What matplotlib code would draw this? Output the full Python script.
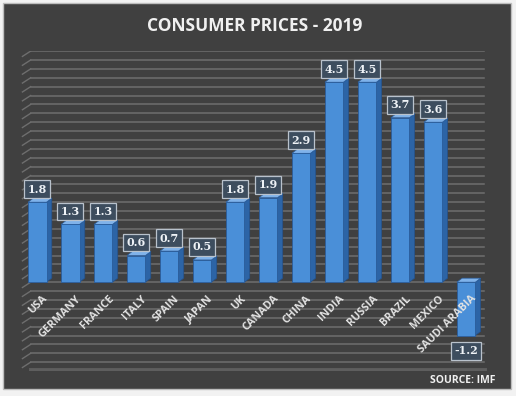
import numpy as np
import matplotlib.pyplot as plt
from matplotlib.patches import Polygon, Rectangle

# data
countries = ["USA", "GERMANY", "FRANCE", "ITALY", "SPAIN", "JAPAN", "UK",
             "CANADA", "CHINA", "INDIA", "RUSSIA", "BRAZIL", "MEXICO", "SAUDI ARABIA"]
inflation = [1.8, 1.3, 1.3, 0.6, 0.7, 0.5, 1.8, 1.9, 2.9, 4.5, 4.5, 3.7, 3.6, -1.2]

BG = "#404040"
GRID = "#6e6e6e"
FRONT = "#4a8fd8"
SIDE = "#2c64a6"
TOP = "#7fb2ea"

fig = plt.figure(figsize=(5.16, 3.96), dpi=100)
fig.patch.set_facecolor("#f2f2f2")
panel = Rectangle((0.006, 0.018), 0.984, 0.975, transform=fig.transFigure,
                  facecolor=BG, edgecolor="#bdbdbd", lw=1.0, zorder=-10)
fig.add_artist(panel)

ax = fig.add_axes([0.039, 0.063, 0.911, 0.808])
ax.set_facecolor("none")
ax.set_xlim(-0.52, 13.73)
ax.set_ylim(-2.0, 5.2)
ax.axis("off")

# back wall / floor grid lines with a slanted side-wall stub
levels = np.round(np.arange(-2.0, 5.21, 0.2), 2)
for y in levels:
    ax.plot([-0.2, 13.55], [y, y], color=GRID, lw=1.1, zorder=1)
    ax.plot([-0.45, -0.2], [y - 0.12, y], color=GRID, lw=1.0, zorder=1)
ax.plot([-0.2, 13.55], [-1.98, -1.98], color="#5e5e5e", lw=3.5, zorder=1)

x = np.arange(len(countries))
w = 0.56
dx, dy = 0.16, 0.09
ax.bar(x, inflation, width=w, color=FRONT, edgecolor="#2a5d9c", lw=0.6, zorder=3)

for xi, v in zip(x, inflation):
    r = xi + w / 2
    top = max(v, 0)
    bot = min(v, 0)
    ax.add_patch(Polygon([(r, bot), (r + dx, bot + dy), (r + dx, top + dy), (r, top)],
                         closed=True, facecolor=SIDE, edgecolor="#24518a", lw=0.5, zorder=2))
    ax.add_patch(Polygon([(xi - w / 2, top), (r, top), (r + dx, top + dy),
                          (xi - w / 2 + dx, top + dy)],
                         closed=True, facecolor=TOP, edgecolor="#2a5d9c", lw=0.5, zorder=2))
    if v >= 0:
        ty, va = v + 0.17, "bottom"
    else:
        ty, va = v - 0.22, "top"
    ax.text(xi, ty, f"{v:.1f}", ha="center", va=va, color="#eef2f6",
            fontsize=8, fontweight="bold", family="DejaVu Serif", zorder=5,
            bbox=dict(boxstyle="square,pad=0.3", facecolor="#3d4d5e",
                      edgecolor="#b9c2cc", lw=0.9))

for xi, name in zip(x, countries):
    ax.text(xi + 0.15, -0.25, name, rotation=45, rotation_mode="anchor",
            ha="right", va="top", color="#e2e2e2", fontsize=7.8,
            fontweight="bold", family="Open Sans", zorder=4)

fig.text(0.493, 0.935, "CONSUMER PRICES - 2019", ha="center", va="center",
         color="#f0f0f0", fontsize=12.5, fontweight="bold", family="Open Sans")
fig.text(0.96, 0.04, "SOURCE: IMF", ha="right", va="center",
         color="#f0f0f0", fontsize=7.5, fontweight="bold", family="Open Sans")

fig.savefig("out.png", dpi=100, facecolor=fig.get_facecolor())
